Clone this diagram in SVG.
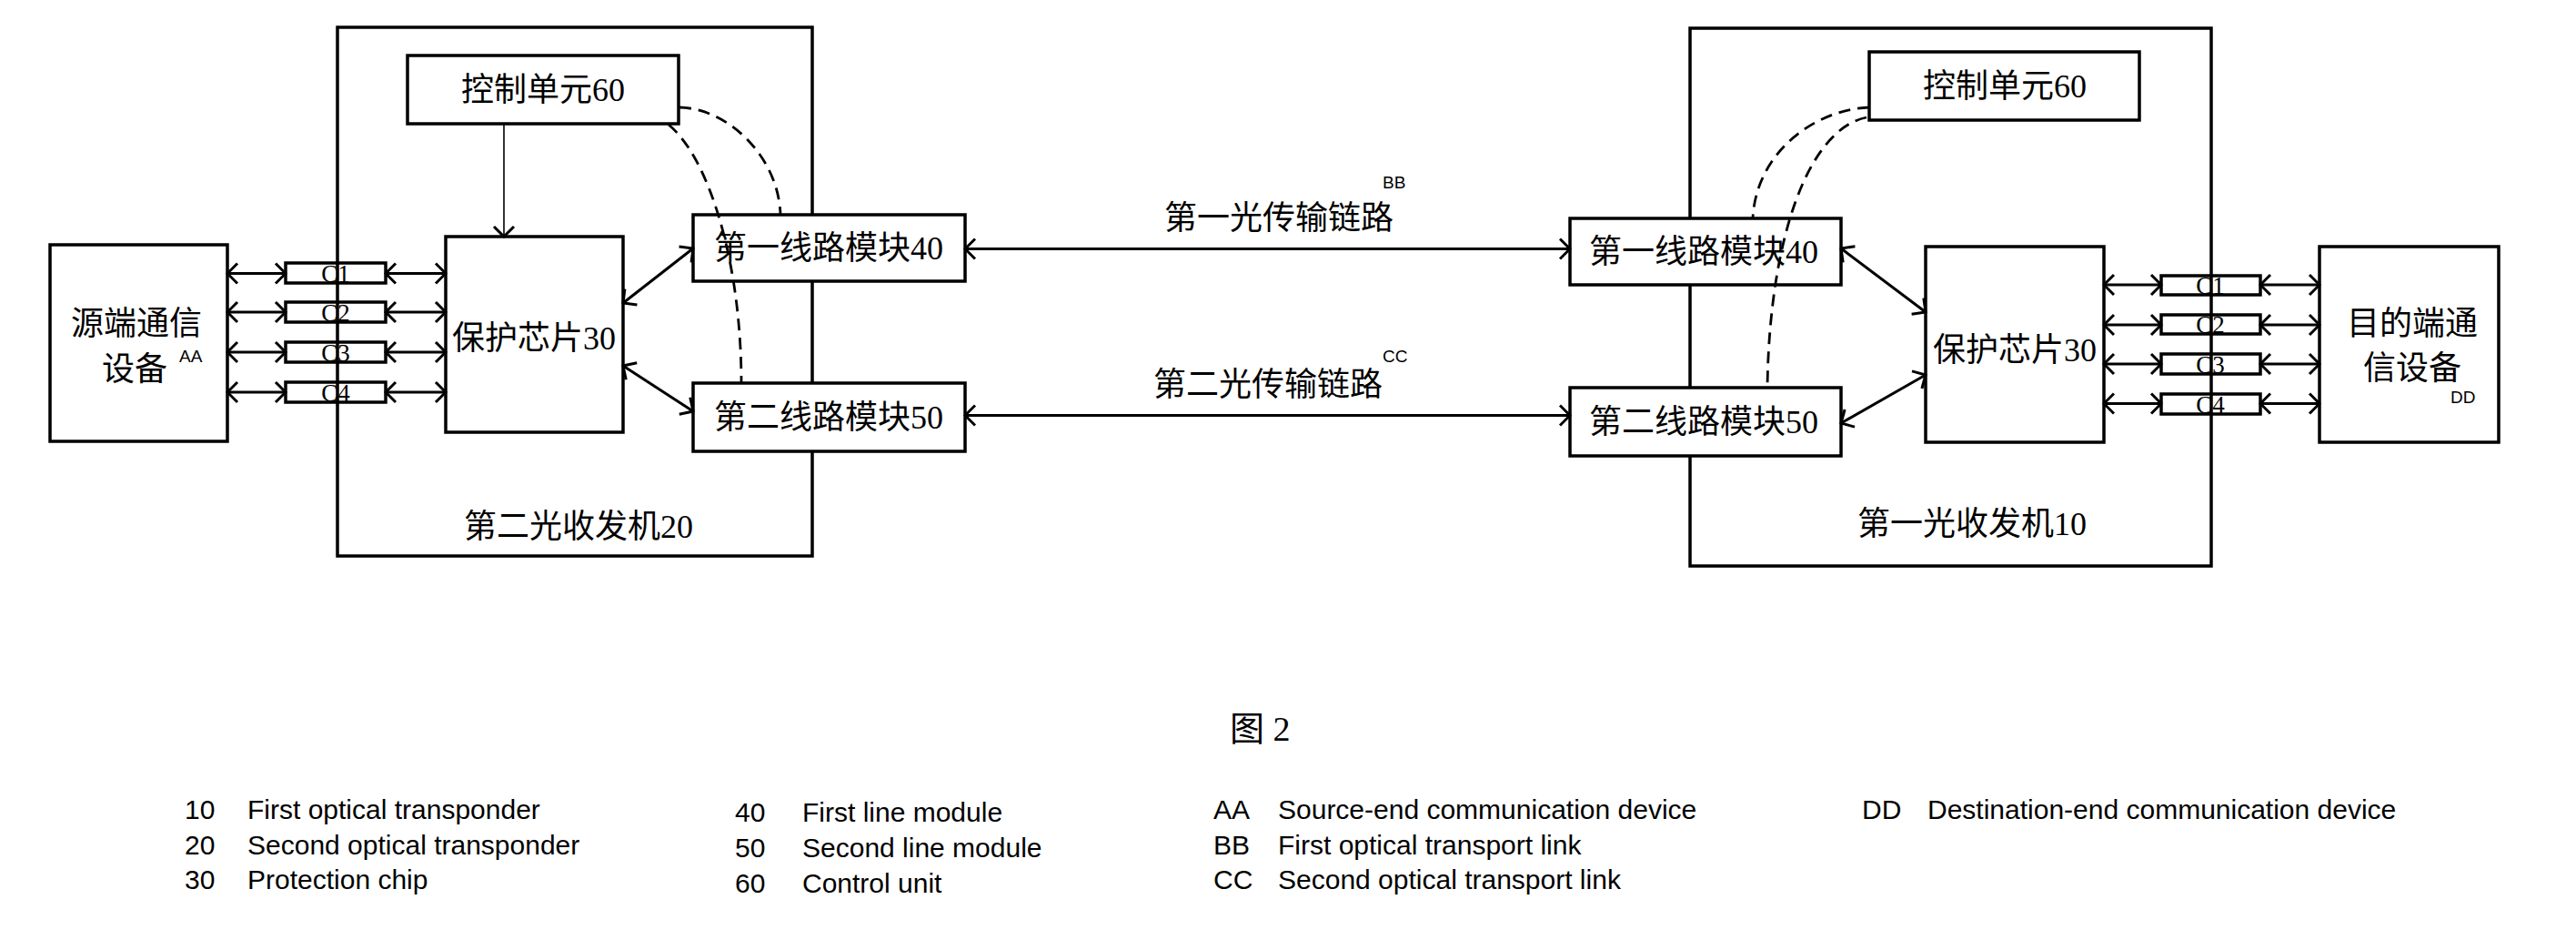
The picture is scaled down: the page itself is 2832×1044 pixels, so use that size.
<svg xmlns="http://www.w3.org/2000/svg" width="2832" height="1044" viewBox="0 0 2832 1044">
<style>
.box{fill:none;stroke:#000;stroke-width:3.5}
.wbox{fill:#fff;stroke:#000;stroke-width:3.5}
.cbox{fill:none;stroke:#000;stroke-width:3.5}
.zh{font-family:"Liberation Serif","Noto Sans CJK SC",serif;font-size:36px;fill:#000}
.cl{font-family:"Liberation Serif",serif;font-size:27px;fill:#000;text-anchor:middle}
.sup{font-family:"Liberation Sans",Arial,sans-serif;font-size:19px;fill:#000}
.lg{font-family:"Liberation Sans",Arial,sans-serif;font-size:30px;fill:#000}
.mid{text-anchor:middle}
.ar{fill:none;stroke:#000;stroke-width:3;marker-start:url(#ah);marker-end:url(#ah)}
.ar1{fill:none;stroke:#000;stroke-width:1.6;marker-end:url(#ah)}
.dash{fill:none;stroke:#000;stroke-width:2.8;stroke-dasharray:13 8}
</style>
<defs>
<marker id="ah" viewBox="-14 -14 16 28" refX="0" refY="0" markerWidth="16" markerHeight="28" markerUnits="userSpaceOnUse" orient="auto-start-reverse">
<path d="M-11,-11 L0,0 L-11,11" fill="none" stroke="#000" stroke-width="3"/>
</marker>
</defs>
<rect width="2832" height="1044" fill="#fff"/>

<g id="transceiver20">
<rect class="box" x="371" y="30" width="522" height="581"/>
<text class="zh mid" x="636" y="591">第二光收发机20</text>
</g>
<g id="transceiver10">
<rect class="box" x="1858" y="31" width="573" height="591"/>
<text class="zh mid" x="2168" y="588">第一光收发机10</text>
</g>

<g id="source-device">
<rect class="wbox" x="55" y="269" width="195" height="216"/>
<text class="zh mid" x="150" y="368">源端通信</text>
<text class="zh" x="112" y="418">设备</text>
<text class="sup" x="197" y="398">AA</text>
</g>
<g id="dest-device">
<rect class="wbox" x="2550" y="271" width="197" height="215"/>
<text class="zh mid" x="2652" y="368">目的端通</text>
<text class="zh mid" x="2652" y="417">信设备</text>
<text class="sup" x="2694" y="443">DD</text>
</g>

<g id="left-c-boxes">
<rect class="cbox" x="314" y="289" width="110" height="22"/>
<rect class="cbox" x="314" y="332" width="110" height="22"/>
<rect class="cbox" x="314" y="376" width="110" height="22"/>
<rect class="cbox" x="314" y="420" width="110" height="22"/>
<text class="cl" x="369" y="310">C1</text>
<text class="cl" x="369" y="353">C2</text>
<text class="cl" x="369" y="397">C3</text>
<text class="cl" x="369" y="441">C4</text>
</g>
<g id="right-c-boxes">
<rect class="cbox" x="2376" y="303" width="109" height="21"/>
<rect class="cbox" x="2376" y="346" width="109" height="21"/>
<rect class="cbox" x="2376" y="389" width="109" height="22"/>
<rect class="cbox" x="2376" y="433" width="109" height="22"/>
<text class="cl" x="2430" y="323">C1</text>
<text class="cl" x="2430" y="366">C2</text>
<text class="cl" x="2430" y="410">C3</text>
<text class="cl" x="2430" y="454">C4</text>
</g>

<g id="left-chip30">
<rect class="wbox" x="490" y="260" width="195" height="215"/>
<text class="zh mid" x="587" y="384">保护芯片30</text>
</g>
<g id="right-chip30">
<rect class="wbox" x="2117" y="271" width="196" height="215"/>
<text class="zh mid" x="2215" y="397">保护芯片30</text>
</g>

<g id="left-control60">
<rect class="wbox" x="448" y="61" width="298" height="75"/>
<text class="zh mid" x="597" y="111">控制单元60</text>
</g>
<g id="right-control60">
<rect class="wbox" x="2055" y="57" width="297" height="75"/>
<text class="zh mid" x="2204" y="107">控制单元60</text>
</g>

<g id="left-module40">
<rect class="wbox" x="762" y="236" width="299" height="73"/>
<text class="zh mid" x="911" y="285">第一线路模块40</text>
</g>
<g id="left-module50">
<rect class="wbox" x="762" y="421" width="299" height="75"/>
<text class="zh mid" x="911" y="471">第二线路模块50</text>
</g>
<g id="right-module40">
<rect class="wbox" x="1726" y="240" width="298" height="73"/>
<text class="zh mid" x="1873" y="289">第一线路模块40</text>
</g>
<g id="right-module50">
<rect class="wbox" x="1726" y="426" width="298" height="75"/>
<text class="zh mid" x="1873" y="476">第二线路模块50</text>
</g>

<g id="connectors">
<line class="ar" x1="250" y1="300.5" x2="314" y2="300.5"/>
<line class="ar" x1="424" y1="300.5" x2="490" y2="300.5"/>
<line class="ar" x1="250" y1="343" x2="314" y2="343"/>
<line class="ar" x1="424" y1="343" x2="490" y2="343"/>
<line class="ar" x1="250" y1="387" x2="314" y2="387"/>
<line class="ar" x1="424" y1="387" x2="490" y2="387"/>
<line class="ar" x1="250" y1="431" x2="314" y2="431"/>
<line class="ar" x1="424" y1="431" x2="490" y2="431"/>

<line class="ar" x1="2313" y1="313" x2="2376" y2="313"/>
<line class="ar" x1="2485" y1="313" x2="2550" y2="313"/>
<line class="ar" x1="2313" y1="357" x2="2376" y2="357"/>
<line class="ar" x1="2485" y1="357" x2="2550" y2="357"/>
<line class="ar" x1="2313" y1="400" x2="2376" y2="400"/>
<line class="ar" x1="2485" y1="400" x2="2550" y2="400"/>
<line class="ar" x1="2313" y1="443.5" x2="2376" y2="443.5"/>
<line class="ar" x1="2485" y1="443.5" x2="2550" y2="443.5"/>

<line class="ar1" x1="554" y1="136" x2="554" y2="260"/>

<line class="ar" x1="685" y1="333" x2="762" y2="273"/>
<line class="ar" x1="685" y1="402" x2="762" y2="452"/>
<line class="ar" x1="2024" y1="273" x2="2117" y2="343"/>
<line class="ar" x1="2117" y1="412" x2="2024" y2="465"/>

<line class="ar" x1="1061" y1="273.5" x2="1726" y2="273.5"/>
<line class="ar" x1="1061" y1="456.5" x2="1726" y2="456.5"/>

<path class="dash" d="M747,118 C800,119 856,172 858,236"/>
<path class="dash" d="M735,137 C778,172 815,285 815,421"/>
<path class="dash" d="M2055,118 C1990,121 1930,172 1927,240"/>
<path class="dash" d="M2052,129 C1988,142 1945,262 1943,426"/>

<text class="zh mid" x="1406" y="252">第一光传输链路</text>
<text class="sup" x="1520" y="207">BB</text>
<text class="zh mid" x="1394" y="435">第二光传输链路</text>
<text class="sup" x="1520" y="398">CC</text>
</g>

<g id="caption">
<text class="zh" x="1352" y="814" style="font-size:38px">图 2</text>
</g>

<g id="legend">
<text class="lg" x="203" y="900">10</text><text class="lg" x="272" y="900">First optical transponder</text>
<text class="lg" x="203" y="939">20</text><text class="lg" x="272" y="939">Second optical transponder</text>
<text class="lg" x="203" y="977">30</text><text class="lg" x="272" y="977">Protection chip</text>
<text class="lg" x="808" y="903">40</text><text class="lg" x="882" y="903">First line module</text>
<text class="lg" x="808" y="942">50</text><text class="lg" x="882" y="942">Second line module</text>
<text class="lg" x="808" y="981">60</text><text class="lg" x="882" y="981">Control unit</text>
<text class="lg" x="1334" y="900">AA</text><text class="lg" x="1405" y="900">Source-end communication device</text>
<text class="lg" x="1334" y="939">BB</text><text class="lg" x="1405" y="939">First optical transport link</text>
<text class="lg" x="1334" y="977">CC</text><text class="lg" x="1405" y="977">Second optical transport link</text>
<text class="lg" x="2047" y="900">DD</text><text class="lg" x="2119" y="900">Destination-end communication device</text>
</g>
</svg>
